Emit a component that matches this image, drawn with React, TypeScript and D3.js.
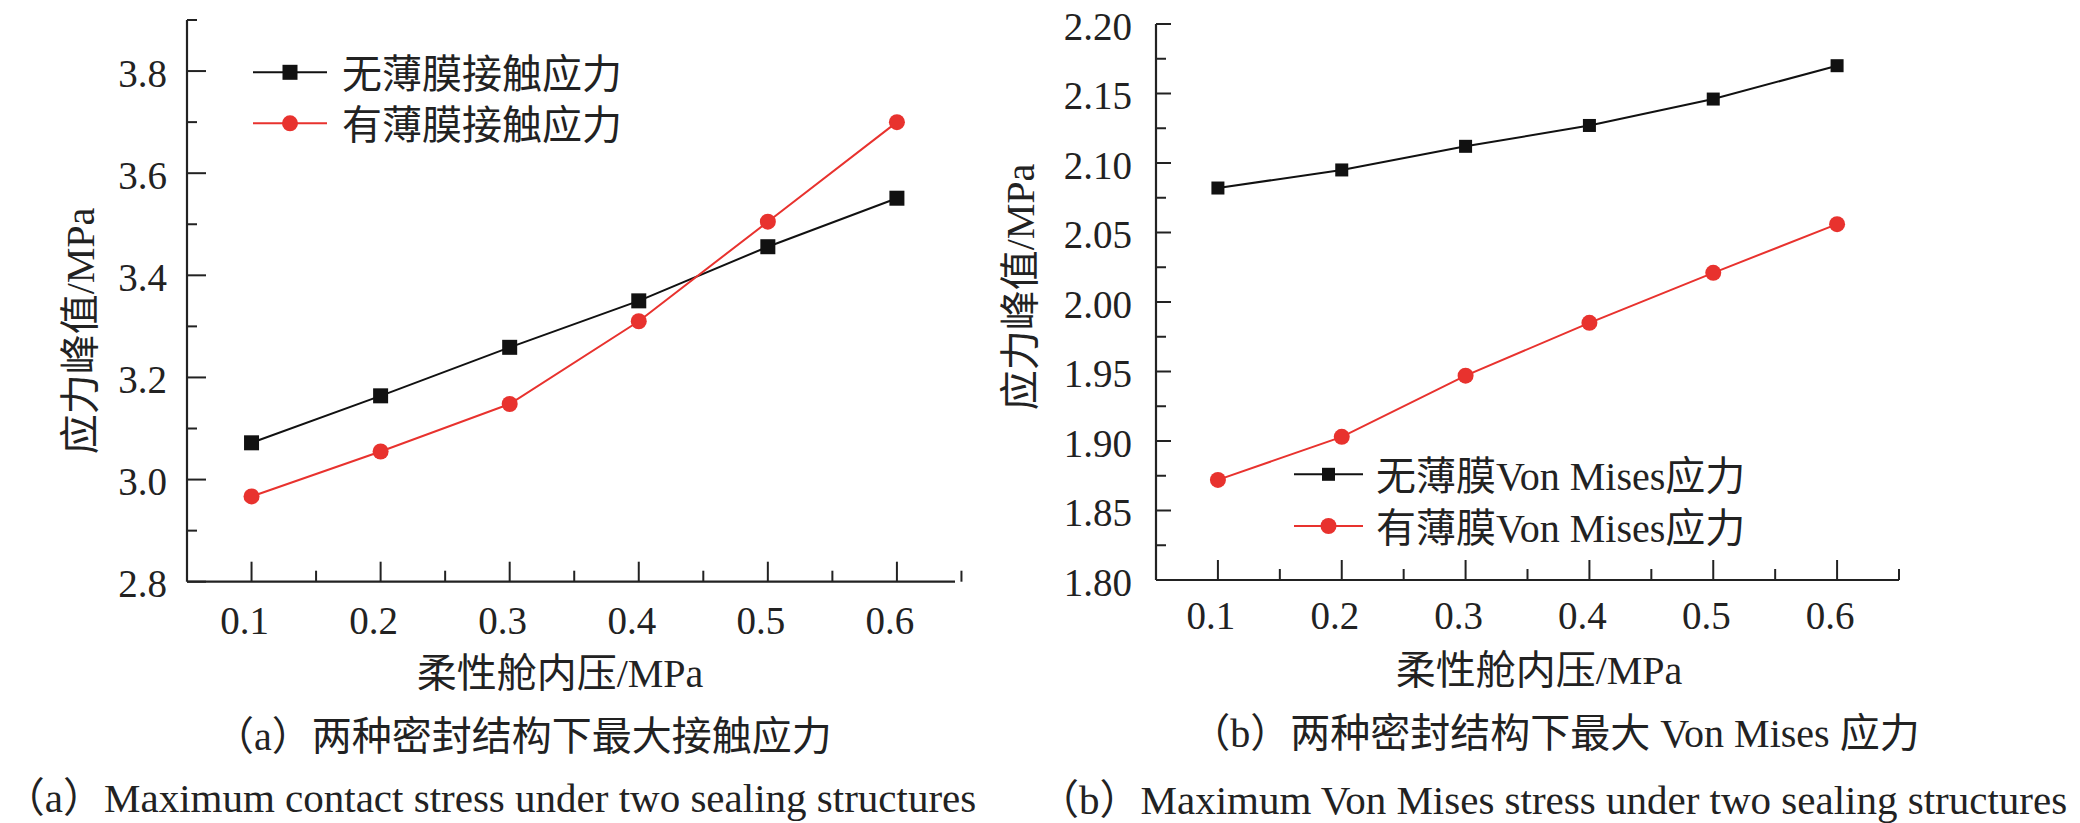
import React from "react";
import * as d3 from "d3";

// ---------- data ----------
const pressures = [0.1, 0.2, 0.3, 0.4, 0.5, 0.6];
const contactNoFilm = [3.072, 3.164, 3.259, 3.35, 3.456, 3.551];
const contactFilm = [2.967, 3.055, 3.148, 3.31, 3.505, 3.7];
const misesNoFilm = [2.082, 2.095, 2.112, 2.127, 2.146, 2.17];
const misesFilm = [1.872, 1.903, 1.947, 1.985, 2.021, 2.056];

const xTickLabels = ["0.1", "0.2", "0.3", "0.4", "0.5", "0.6"];
const xMinorTicks = [0.15, 0.25, 0.35, 0.45, 0.55, 0.65];
const leftYTicks = [2.8, 3.0, 3.2, 3.4, 3.6, 3.8];
const leftYMinor = [2.9, 3.1, 3.3, 3.5, 3.7, 3.9];
const rightYTicks = [1.8, 1.85, 1.9, 1.95, 2.0, 2.05, 2.1, 2.15, 2.2];
const rightYMinor = [1.825, 1.875, 1.925, 1.975, 2.025, 2.075, 2.125, 2.175];

const leftLegend = ["无薄膜接触应力", "有薄膜接触应力"];
const rightLegend = ["无薄膜Von Mises应力", "有薄膜Von Mises应力"];
const yTitle = "应力峰值/MPa";
const xTitle = "柔性舱内压/MPa";
const captionsA = ["（a）两种密封结构下最大接触应力", "（a）Maximum contact stress under two sealing structures"];
const captionsB = ["（b）两种密封结构下最大 Von Mises 应力", "（b）Maximum Von Mises stress under two sealing structures"];

const FONT = "'Liberation Serif', 'Times New Roman', 'Noto Sans CJK SC', serif";
const INK = "#222";
const BLACK = "#111";
const RED = "#e8322e";

type PanelProps = {
  x0: number; x1: number; xDomain: [number, number];
  yTop: number; yBottom: number; yDomain: [number, number];
  yTicks: number[]; yMinor: number[]; yFmt: (v: number) => string;
  series: number[][]; legend: string[];
  legX: number[]; legY: number[]; legTextX: number;
  yTitleX: number; yTitleY: number; xTitleX: number; xTitleY: number;
  xLabelY: number; yLabelGap: number; yMajorLen: number;
  sq: number; circ: number;
};

function Panel(p: PanelProps) {
  const x = d3.scaleLinear().domain(p.xDomain).range([p.x0, p.x1]);
  const y = d3.scaleLinear().domain(p.yDomain).range([p.yBottom, p.yTop]);
  const line = d3.line<number>().x((_, i) => x(pressures[i])).y((d) => y(d));
  const colors = [BLACK, RED];
  return (
    <g>
      {/* axes */}
      <line x1={p.x0} x2={p.x0} y1={p.yTop} y2={p.yBottom} stroke={INK} strokeWidth={2.2} />
      <line x1={p.x0} x2={p.x1} y1={p.yBottom} y2={p.yBottom} stroke={INK} strokeWidth={2.2} />
      {p.yTicks.map((t) => (
        <g key={"yt" + t}>
          <line x1={p.x0} x2={p.x0 + p.yMajorLen} y1={y(t)} y2={y(t)} stroke={INK} strokeWidth={2} />
          <text x={p.x0 - p.yLabelGap} y={y(t) + 2} textAnchor="end" dominantBaseline="central"
            fontFamily={FONT} fontSize={39} fill={INK}>{p.yFmt(t)}</text>
        </g>
      ))}
      {p.yMinor.map((t) => (
        <line key={"ym" + t} x1={p.x0} x2={p.x0 + 10} y1={y(t)} y2={y(t)} stroke={INK} strokeWidth={2} />
      ))}
      {pressures.map((t, i) => (
        <g key={"xt" + t}>
          <line x1={x(t)} x2={x(t)} y1={p.yBottom} y2={p.yBottom - 20} stroke={INK} strokeWidth={2} />
          <text x={x(t) - 7} y={p.xLabelY} textAnchor="middle" dominantBaseline="central"
            fontFamily={FONT} fontSize={39} fill={INK}>{xTickLabels[i]}</text>
        </g>
      ))}
      {xMinorTicks.map((t) => (
        <line key={"xm" + t} x1={x(t)} x2={x(t)} y1={p.yBottom} y2={p.yBottom - 11} stroke={INK} strokeWidth={2} />
      ))}
      {/* series */}
      {p.series.map((s, k) => (
        <g key={"s" + k}>
          <path d={line(s) || ""} fill="none" stroke={colors[k]} strokeWidth={2} />
          {s.map((v, i) =>
            k === 0 ? (
              <rect key={i} x={x(pressures[i]) - p.sq / 2} y={y(v) - p.sq / 2} width={p.sq} height={p.sq} fill={BLACK} />
            ) : (
              <circle key={i} cx={x(pressures[i])} cy={y(v)} r={p.circ / 2} fill={RED} />
            )
          )}
        </g>
      ))}
      {/* legend */}
      {p.legend.map((lab, k) => (
        <g key={"lg" + k}>
          <line x1={p.legX[0]} x2={p.legX[1]} y1={p.legY[k]} y2={p.legY[k]} stroke={colors[k]} strokeWidth={2} />
          {k === 0 ? (
            <rect x={(p.legX[0] + p.legX[1]) / 2 - p.sq / 2} y={p.legY[k] - p.sq / 2} width={p.sq} height={p.sq} fill={BLACK} />
          ) : (
            <circle cx={(p.legX[0] + p.legX[1]) / 2} cy={p.legY[k]} r={p.circ / 2} fill={RED} />
          )}
          <text x={p.legTextX} y={p.legY[k] + 2} dominantBaseline="central" fontFamily={FONT} fontSize={40} fill={INK}>{lab}</text>
        </g>
      ))}
      {/* titles */}
      <text transform={`translate(${p.yTitleX},${p.yTitleY}) rotate(-90)`} textAnchor="middle" dominantBaseline="central"
        fontFamily={FONT} fontSize={40} fill={INK}>{yTitle}</text>
      <text x={p.xTitleX} y={p.xTitleY} textAnchor="middle" dominantBaseline="central"
        fontFamily={FONT} fontSize={40} fill={INK}>{xTitle}</text>
    </g>
  );
}

export default function App() {
  return (
    <svg width={2080} height={823} style={{ position: "absolute", left: 0, top: 0, background: "#fff" }}>
      <rect x={0} y={0} width={2080} height={823} fill="#fff" />
      <Panel
        x0={187} x1={955} xDomain={[0.05, 0.645]}
        yTop={20} yBottom={581.7} yDomain={[2.8, 3.9]}
        yTicks={leftYTicks} yMinor={leftYMinor} yFmt={d3.format(".1f")}
        series={[contactNoFilm, contactFilm]} legend={leftLegend}
        legX={[253, 327]} legY={[72.3, 123.3]} legTextX={342}
        yTitleX={80} yTitleY={331} xTitleX={560} xTitleY={673}
        xLabelY={620} yLabelGap={20} yMajorLen={19}
        sq={15} circ={16}
      />
      <Panel
        x0={1156} x1={1899} xDomain={[0.05, 0.65]}
        yTop={24} yBottom={580} yDomain={[1.8, 2.2]}
        yTicks={rightYTicks} yMinor={rightYMinor} yFmt={d3.format(".2f")}
        series={[misesNoFilm, misesFilm]} legend={rightLegend}
        legX={[1294, 1363]} legY={[474.3, 526]} legTextX={1376}
        yTitleX={1020} yTitleY={287} xTitleX={1539} xTitleY={670}
        xLabelY={615} yLabelGap={24} yMajorLen={15}
        sq={13} circ={16}
      />
      <text x={523} y={736} textAnchor="middle" dominantBaseline="central" fontFamily={FONT} fontSize={40} fill={INK}>{captionsA[0]}</text>
      <text x={490} y={798} textAnchor="middle" dominantBaseline="central" fontFamily={FONT} fontSize={41} fill={INK}>{captionsA[1]}</text>
      <text x={1555} y={733} textAnchor="middle" dominantBaseline="central" fontFamily={FONT} fontSize={40} fill={INK}>{captionsB[0]}</text>
      <text x={1038} y={800} textAnchor="start" dominantBaseline="central" fontFamily={FONT} fontSize={41} fill={INK}>{captionsB[1]}</text>
    </svg>
  );
}
